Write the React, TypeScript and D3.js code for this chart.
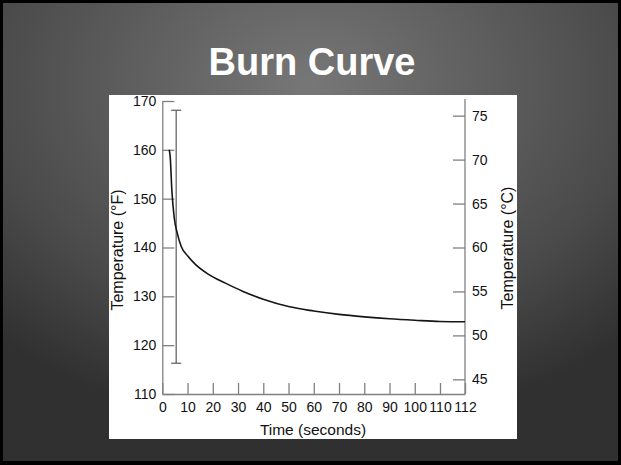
import React, { useRef, useEffect } from "react";
import * as d3 from "d3";

// values
const timeSeconds = [2.7, 3.1, 3.8, 4.7, 6, 7.5, 10, 13, 18, 25, 32, 40, 50, 60, 70, 80, 90, 100, 110, 112];
const tempF = [160, 158.8, 151.6, 146.2, 142.8, 140.2, 138.3, 136.6, 134.6, 132.7, 131, 129.4, 127.9, 127, 126.3, 125.8, 125.4, 125.1, 124.85, 124.8];

const timeTicks = [0, 10, 20, 30, 40, 50, 60, 70, 80, 90, 100, 110, 112];
const fTicks = [110, 120, 130, 140, 150, 160, 170];
const cTicks = [45, 50, 55, 60, 65, 70, 75];

const errorTime = 5.5;
const errorRange = [116.3, 168.1];

const title = "Burn Curve";

const W = 621;
const H = 465;

const toC = (f: number) => ((f - 32) * 5) / 9;

const App: React.FC = () => {
  const ref = useRef<SVGSVGElement | null>(null);

  useEffect(() => {
    if (!ref.current) return;
    const svg = d3.select(ref.current);
    svg.selectAll("*").remove();

    const defs = svg.append("defs");
    const bg = defs
      .append("radialGradient")
      .attr("id", "bg-grad")
      .attr("cx", "0.5")
      .attr("cy", "0.18")
      .attr("r", "0.75");
    bg.append("stop").attr("offset", "0%").attr("stop-color", "#777777");
    bg.append("stop").attr("offset", "70%").attr("stop-color", "#4a4a4a");
    bg.append("stop").attr("offset", "100%").attr("stop-color", "#303030");

    defs
      .append("clipPath")
      .attr("id", "box-clip")
      .append("rect")
      .attr("x", 109)
      .attr("y", 95)
      .attr("width", 408)
      .attr("height", 344);

    // slide frame
    svg.append("rect").attr("width", W).attr("height", H).attr("fill", "#000");
    svg
      .append("rect")
      .attr("x", 3)
      .attr("y", 3)
      .attr("width", 615)
      .attr("height", 458)
      .attr("fill", "url(#bg-grad)");

    svg
      .append("text")
      .attr("x", 312)
      .attr("y", 75)
      .attr("text-anchor", "middle")
      .attr("fill", "#fff")
      .style("font-family", "'Liberation Sans', Arial, sans-serif")
      .style("font-weight", "bold")
      .style("font-size", "38px")
      .text(title);

    // white picture box
    svg
      .append("rect")
      .attr("x", 109)
      .attr("y", 95)
      .attr("width", 408)
      .attr("height", 344)
      .attr("fill", "#fff");

    const g = svg.append("g").attr("clip-path", "url(#box-clip)");

    const x = d3.scaleLinear().domain([0, 110, 112]).range([162.3, 440, 465]);
    const yF = d3.scaleLinear().domain([110, 170]).range([394, 101]);
    const yC = d3.scaleLinear().domain([toC(110), toC(170)]).range([394, 101]);

    const axisColor = "#808080";
    const textColor = "#111";
    const font = "'Liberation Sans', Arial, sans-serif";

    const styleAxis = (sel: d3.Selection<SVGGElement, unknown, null, undefined>) => {
      sel.selectAll("path, line").attr("stroke", axisColor).attr("stroke-width", 1.3);
      sel.selectAll("text").attr("fill", textColor).style("font-family", font).style("font-size", "14px");
    };

    const xAxis = g
      .append("g")
      .attr("transform", "translate(0,394)")
      .call(
        d3.axisBottom(x).tickValues(timeTicks).tickFormat(d3.format("d")).tickSizeInner(-11).tickSizeOuter(0).tickPadding(8)
      );
    styleAxis(xAxis);

    const leftAxis = g
      .append("g")
      .attr("transform", `translate(${x(0)},0)`)
      .call(d3.axisLeft(yF).tickValues(fTicks).tickSizeInner(-12).tickSizeOuter(0).tickPadding(6));
    styleAxis(leftAxis);

    const rightAxis = g
      .append("g")
      .attr("transform", `translate(${x(112)},0)`)
      .call(d3.axisRight(yC).tickValues(cTicks).tickSizeInner(-12).tickSizeOuter(0).tickPadding(7));
    styleAxis(rightAxis);
    rightAxis.select(".domain").attr("d", `M0,${yF(170) - 2}V394`);

    // error bar
    const ex = x(errorTime);
    const eb = g.append("g").attr("stroke", "#666").attr("stroke-width", 1.3);
    eb.append("line").attr("x1", ex).attr("x2", ex).attr("y1", yF(errorRange[0])).attr("y2", yF(errorRange[1]));
    errorRange.forEach((v) => {
      eb.append("line").attr("x1", ex - 5).attr("x2", ex + 5).attr("y1", yF(v)).attr("y2", yF(v));
    });

    // curve
    const pts = timeSeconds.map((t, i) => [t, tempF[i]] as [number, number]);
    const line = d3
      .line<[number, number]>()
      .x((d) => x(d[0]))
      .y((d) => yF(d[1]))
      .curve(d3.curveMonotoneX);
    g.append("path")
      .datum(pts)
      .attr("fill", "none")
      .attr("stroke", "#151515")
      .attr("stroke-width", 1.6)
      .attr("d", line);

    // axis titles
    g.append("text")
      .attr("transform", `translate(122.5,250) rotate(-90)`)
      .attr("text-anchor", "middle")
      .attr("fill", textColor)
      .style("font-family", font)
      .style("font-size", "16px")
      .text("Temperature (°F)");

    g.append("text")
      .attr("transform", `translate(513,248) rotate(-90)`)
      .attr("text-anchor", "middle")
      .attr("fill", textColor)
      .style("font-family", font)
      .style("font-size", "16px")
      .text("Temperature (°C)");

    g.append("text")
      .attr("x", 313)
      .attr("y", 435)
      .attr("text-anchor", "middle")
      .attr("fill", textColor)
      .style("font-family", font)
      .style("font-size", "15.5px")
      .text("Time (seconds)");
  }, []);

  return (
    <svg
      ref={ref}
      width={W}
      height={H}
      style={{ position: "absolute", left: 0, top: 0, display: "block" }}
    ></svg>
  );
};

export default App;
